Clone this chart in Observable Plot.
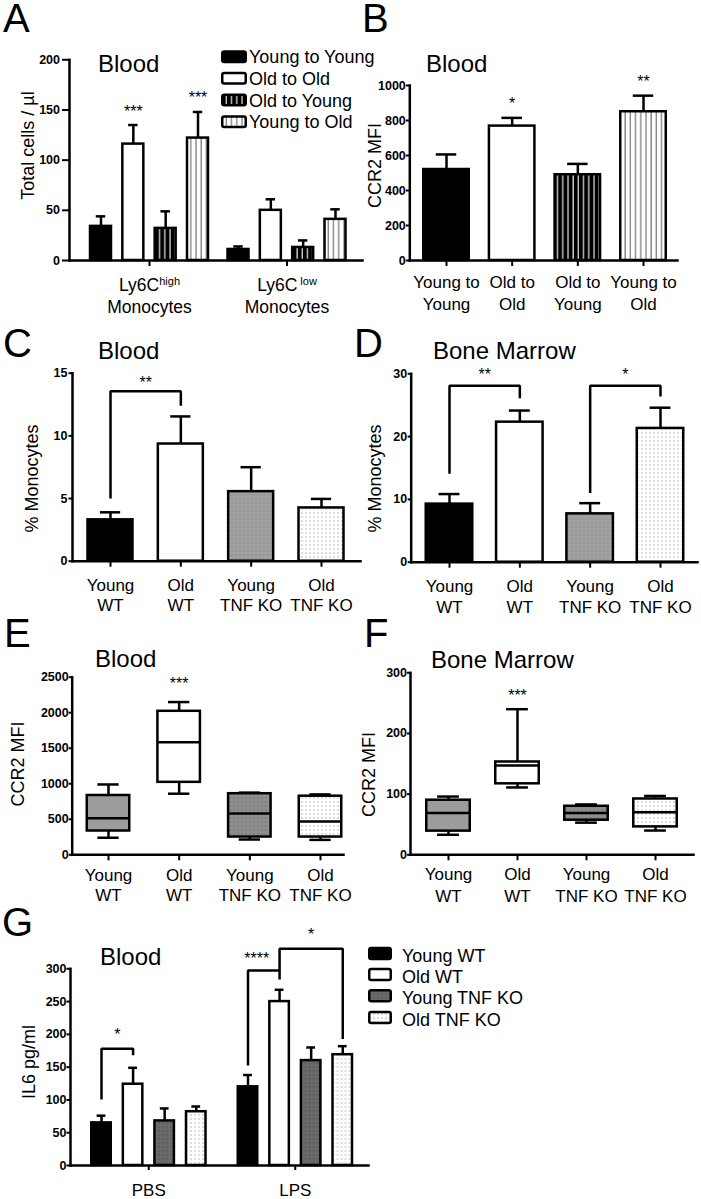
<!DOCTYPE html>
<html>
<head>
<meta charset="utf-8">
<script src="https://cdn.jsdelivr.net/npm/d3@7"></script>
<script src="https://cdn.jsdelivr.net/npm/@observablehq/plot@0.6"></script>
<style>
html,body{margin:0;padding:0;background:#fff;}
#root{position:relative;width:701px;height:1199px;overflow:hidden;background:#fff;}
#root svg{position:absolute;}
#root g[aria-label="y-axis tick label"]{font-weight:bold;}
</style>
</head>
<body>
<div id="root">
<svg id="defs" width="0" height="0" style="left:0;top:0">
<defs>
  <pattern id="vBlack" patternUnits="userSpaceOnUse" width="5.2" height="10">
    <rect width="5.2" height="10" fill="#000"/>
    <rect x="2.2" width="1.1" height="10" fill="#fff"/>
  </pattern>
  <pattern id="vWhite" patternUnits="userSpaceOnUse" width="5.2" height="10">
    <rect width="5.2" height="10" fill="#fff"/>
    <rect x="2.2" width="1.1" height="10" fill="#666"/>
  </pattern>
  <pattern id="dotsLight" patternUnits="userSpaceOnUse" width="4" height="4">
    <rect width="4" height="4" fill="#9c9c9c"/>
    <rect x="1.5" y="1.5" width="1" height="1" fill="#c6c6c6"/>
  </pattern>
  <pattern id="dotsMid" patternUnits="userSpaceOnUse" width="4" height="4">
    <rect width="4" height="4" fill="#8e8e8e"/>
    <rect x="1.5" y="1.5" width="1" height="1" fill="#5a5a5a"/>
  </pattern>
  <pattern id="dotsDark" patternUnits="userSpaceOnUse" width="4" height="4">
    <rect width="4" height="4" fill="#6a6a6a"/>
    <rect x="1.5" y="1.5" width="1" height="1" fill="#3e3e3e"/>
  </pattern>
  <pattern id="dotsWhite" patternUnits="userSpaceOnUse" width="4" height="4">
    <rect width="4" height="4" fill="#fff"/>
    <rect x="1.5" y="1.5" width="1" height="1" fill="#777"/>
  </pattern>
</defs>
</svg>
</div>
<script>
// ================= DATA =================
// Panel A – Blood, total cells / µl
const aGroups = ["Ly6Chigh\nMonocytes", "Ly6Clow\nMonocytes"];
const aSeries = ["Young to Young", "Old to Old", "Old to Young", "Young to Old"];
const aMeans = [[34, 116, 32, 122], [11, 50, 13, 41]];
const aErrs  = [[10, 19, 17, 26], [3, 11, 7, 10]];
const aTicks = [0, 50, 100, 150, 200];
const aStars = [
  {group: 0, from: 1, to: 1, y: 154, label: "***"},
  {group: 0, from: 3, to: 3, y: 168, label: "***"}
];

// Panel B – Blood, CCR2 MFI
const bCats  = ["Young to\nYoung", "Old to\nOld", "Old to\nYoung", "Young to\nOld"];
const bMeans = [520, 768, 490, 850];
const bErrs  = [86, 47, 62, 92];
const bTicks = [0, 200, 400, 600, 800, 1000];
const bStars = [
  {from: 1, to: 1, y: 933, label: "*"},
  {from: 3, to: 3, y: 1057, label: "**"}
];

// Shared categories for C–F
const wtCats = ["Young\nWT", "Old\nWT", "Young\nTNF KO", "Old\nTNF KO"];

// Panel C – Blood, % Monocytes
const cMeans = [3.3, 9.35, 5.55, 4.25];
const cErrs  = [0.6, 2.2, 1.95, 0.72];
const cTicks = [0, 5, 10, 15];
const cBrackets = [
  {id: "c1", cat: 0, y: 5.0}, {id: "c1", cat: 0, y: 13.55},
  {id: "c1", cat: 1, y: 13.55}, {id: "c1", cat: 1, y: 12.4}
];
const cStars = [{from: 0, to: 1, y: 14.74, label: "**"}];

// Panel D – Bone Marrow, % Monocytes
const dMeans = [9.25, 22.3, 7.7, 21.3];
const dErrs  = [1.6, 1.85, 1.7, 3.3];
const dTicks = [0, 10, 20, 30];
const dBrackets = [
  {id: "d1", cat: 0, y: 14.1}, {id: "d1", cat: 0, y: 28.1},
  {id: "d1", cat: 1, y: 28.1}, {id: "d1", cat: 1, y: 26.1},
  {id: "d2", cat: 2, y: 11.0}, {id: "d2", cat: 2, y: 28.1},
  {id: "d2", cat: 3, y: 28.1}, {id: "d2", cat: 3, y: 26.4}
];
const dStars = [
  {from: 0, to: 1, y: 30.8, label: "**"},
  {from: 2, to: 3, y: 30.8, label: "*"}
];

// Panel E – Blood, CCR2 MFI (box plots)
const eMin = [240, 860, 215, 210];
const eQ1  = [335, 1020, 250, 250];
const eMed = [515, 1585, 580, 470];
const eQ3  = [835, 2020, 860, 825];
const eMax = [990, 2150, 875, 850];
const eTicks = [0, 500, 1000, 1500, 2000, 2500];
const eStars = [{from: 1, to: 1, y: 2490, label: "***"}];

// Panel F – Bone Marrow, CCR2 MFI (box plots)
const fMin = [33, 111, 53, 40];
const fQ1  = [39, 117, 57, 46];
const fMed = [69, 147, 69, 70];
const fQ3  = [90, 153, 80, 92];
const fMax = [96, 240, 83, 97];
const fTicks = [0, 100, 200, 300];
const fStars = [{from: 1, to: 1, y: 272, label: "***"}];

// Panel G – Blood, IL6 pg/ml
const gGroups = ["PBS", "LPS"];
const gSeries = ["Young WT", "Old WT", "Young TNF KO", "Old TNF KO"];
const gMeans = [[65, 124, 68, 82], [120, 250, 160, 169]];
const gErrs  = [[11, 25, 19, 8], [18, 18, 20, 13]];
const gTicks = [0, 50, 100, 150, 200, 250, 300];
const gBrackets = [
  {id: "p1", group: 0, s: 0, y: 100.7}, {id: "p1", group: 0, s: 0, y: 178},
  {id: "p1", group: 0, s: 1, y: 178},   {id: "p1", group: 0, s: 1, y: 168},
  {id: "l1", group: 1, s: 0, y: 152.5}, {id: "l1", group: 1, s: 0, y: 297.4},
  {id: "l1", group: 1, s: 1, y: 297.4}, {id: "l1", group: 1, s: 1, y: 283.7},
  {id: "l2", group: 1, s: 1, y: 297.4}, {id: "l2", group: 1, s: 1, y: 330.5},
  {id: "l2", group: 1, s: 3, y: 330.5}, {id: "l2", group: 1, s: 3, y: 193}
];
const gStars = [
  {group: 0, from: 0, to: 1, y: 208.5, label: "*"},
  {group: 1, from: 0, to: 1, y: 325, label: "****"},
  {group: 1, from: 1, to: 3, y: 361, label: "*"}
];

// Text
const panelLetters = ["A", "B", "C", "D", "E", "F", "G"];
const panelTitles = ["Blood", "Blood", "Blood", "Bone Marrow", "Blood", "Bone Marrow", "Blood"];
const yLabels = ["Total cells / µl", "CCR2 MFI", "% Monocytes", "% Monocytes", "CCR2 MFI", "CCR2 MFI", "IL6 pg/ml"];

// ================= STYLES / LAYOUT =================
const FONT = '"Liberation Sans", Arial, Helvetica, sans-serif';
const SW = 2.5;
const STAR = 16;
const transFills = ["#000", "#fff", "url(#vBlack)", "url(#vWhite)"];
const cdFills = ["#000", "#fff", "url(#dotsLight)", "url(#dotsWhite)"];
const efFills = ["#9c9c9c", "#fff", "url(#dotsMid)", "url(#dotsWhite)"];
const gFills = ["#000", "#fff", "url(#dotsDark)", "url(#dotsWhite)"];
const starNudge = {"****": -7};

const letterPos = [[3, 31.7], [362, 32], [3, 357], [354, 357], [4, 647], [364, 647], [2, 936]];
const titlePos = [[98, 71.7], [426, 72], [98, 359], [433, 359], [95, 667], [431, 668], [100, 965]];

const root = document.getElementById("root");
const plotStyle = {fontFamily: FONT, fontSize: "12.5px", background: "transparent", overflow: "visible", maxWidth: "none", position: "absolute"};

function band(l, r, c1, cN, n, bw) {
  const step = (cN - c1) / (n - 1);
  const paddingInner = Math.max(0, 1 - bw / step);
  const paddingOuter = Math.max(0, ((r - l) / step - n + paddingInner) / 2);
  const L = (r - l) - step * (n - paddingInner);
  const align = L > 0.001 ? Math.min(1, Math.max(0, (c1 - bw / 2 - l) / L)) : 0.5;
  const start = l + Math.max(0, L) * align;
  return {step, bw, start, end: start + step * (n - paddingInner), opts: {paddingInner, paddingOuter, align, round: false}};
}
function frameOf(box, f) {
  return {width: box.w, height: box.h, marginLeft: f.l - box.x, marginRight: box.x + box.w - f.r,
          marginTop: f.t - box.y, marginBottom: box.y + box.h - f.b};
}
function mount(svg, box) {
  svg.style.left = box.x + "px";
  svg.style.top = box.y + "px";
  root.appendChild(svg);
}
// For faceted panels the "super" frame spans the facets only (start..end);
// negative insets extend the axis lines to the full plot frame.
function yMarks({ticks, label, frame, labelAt, tickSize, tickPadding, fxb}) {
  const f = fxb ? {facet: "super"} : {};
  const left = fxb ? fxb.start : frame.l;
  const exL = fxb ? -(fxb.start - frame.l) : 0;
  const exR = fxb ? -(frame.r - fxb.end) : 0;
  const ymax = ticks[ticks.length - 1];
  const labelOpts = {text: "t", frameAnchor: "left", textAnchor: "middle", lineAnchor: "middle",
    rotate: -90, fontSize: 18, dx: labelAt[0] - left};
  const labelMark = fxb
    ? Plot.text([{t: label}], {...labelOpts, dy: labelAt[1] - (frame.t + frame.b) / 2, ...f})
    : Plot.text([{t: label, v: (frame.b - labelAt[1]) / (frame.b - frame.t) * ymax}], {...labelOpts, y: "v"});
  return [
    Plot.frame({anchor: "bottom", strokeWidth: SW, insetLeft: exL, insetRight: exR, ...f}),
    Plot.frame({anchor: "left", strokeWidth: SW, insetLeft: exL, ...f}),
    Plot.axisY({ticks, tickSize, tickPadding, tickFormat: d => String(d), fontSize: 12.5, fontWeight: "bold",
      strokeWidth: 2, label: null, dx: exL}),
    labelMark
  ];
}
function starMark(s, cats, step, size, extra = {}) {
  return Plot.text([s], {x: d => cats[d.from], y: "y", text: "label", lineAnchor: "top", fontSize: size,
    dx: step * (s.to - s.from) / 2 + (starNudge[s.label] || 0), ...extra});
}

function barPanel(p) {
  const data = p.cats.map((c, i) => ({cat: c, i, mean: p.means[i], err: p.errs[i]}));
  const capInset = p.xb.bw * 0.275;
  const marks = [
    Plot.ruleX(data, {x: "cat", y1: "mean", y2: d => d.mean + d.err, strokeWidth: SW}),
    Plot.tickY(data, {x: "cat", y: d => d.mean + d.err, strokeWidth: SW, inset: capInset}),
    Plot.barY(data, {x: "cat", y: "mean", fill: d => p.fills[d.i], stroke: "#000", strokeWidth: SW})
  ];
  if (p.brackets) marks.push(Plot.line(p.brackets, {x: d => p.cats[d.cat], y: "y", z: "id", stroke: "#000",
    strokeWidth: SW, strokeLinejoin: "miter", strokeLinecap: "butt"}));
  for (const s of p.stars) marks.push(starMark(s, p.cats, p.xb.step, STAR));
  marks.push(...yMarks(p.y));
  marks.push(Plot.axisX({tickSize: 6, tickPadding: p.xTick.pad, fontSize: 17, lineHeight: p.xTick.lh, strokeWidth: 2, label: null}));
  const svg = Plot.plot({...frameOf(p.box, p.frame), style: plotStyle,
    x: {domain: p.cats, ...p.xb.opts},
    y: {domain: [0, p.y.ticks[p.y.ticks.length - 1]]},
    color: {type: "identity"}, marks});
  mount(svg, p.box);
}

function boxPanel(p) {
  const data = p.cats.map((c, i) => ({cat: c, i, lo: p.lo[i], q1: p.q1[i], med: p.med[i], q3: p.q3[i], hi: p.hi[i]}));
  const capInset = p.xb.bw * 0.25;
  const marks = [
    Plot.ruleX(data, {x: "cat", y1: "lo", y2: "q1", strokeWidth: SW}),
    Plot.ruleX(data, {x: "cat", y1: "q3", y2: "hi", strokeWidth: SW}),
    Plot.tickY(data, {x: "cat", y: "lo", inset: capInset, strokeWidth: SW}),
    Plot.tickY(data, {x: "cat", y: "hi", inset: capInset, strokeWidth: SW}),
    Plot.barY(data, {x: "cat", y1: "q1", y2: "q3", fill: d => p.fills[d.i], stroke: "#000", strokeWidth: SW}),
    Plot.tickY(data, {x: "cat", y: "med", strokeWidth: SW})
  ];
  for (const s of p.stars) marks.push(starMark(s, p.cats, p.xb.step, STAR));
  marks.push(...yMarks(p.y));
  marks.push(Plot.axisX({tickSize: 6, tickPadding: p.xTick.pad, fontSize: 17, lineHeight: p.xTick.lh, strokeWidth: 2, label: null}));
  const svg = Plot.plot({...frameOf(p.box, p.frame), style: plotStyle,
    x: {domain: p.cats, ...p.xb.opts},
    y: {domain: [0, p.y.ticks[p.y.ticks.length - 1]]},
    color: {type: "identity"}, marks});
  mount(svg, p.box);
}

function groupedPanel(p) {
  const data = [];
  p.groups.forEach((g, gi) => p.series.forEach((s, si) =>
    data.push({group: g, series: s, si, mean: p.means[gi][si], err: p.errs[gi][si]})));
  const capInset = p.xb.bw * 0.275;
  const fxOf = d => p.groups[d.group];
  const marks = [
    Plot.ruleX(data, {fx: "group", x: "series", y1: "mean", y2: d => d.mean + d.err, strokeWidth: SW}),
    Plot.tickY(data, {fx: "group", x: "series", y: d => d.mean + d.err, strokeWidth: SW, inset: capInset}),
    Plot.barY(data, {fx: "group", x: "series", y: "mean", fill: d => p.fills[d.si], stroke: "#000", strokeWidth: SW})
  ];
  if (p.brackets) marks.push(Plot.line(p.brackets, {fx: fxOf, x: d => p.series[d.s], y: "y", z: "id",
    stroke: "#000", strokeWidth: SW, strokeLinejoin: "miter", strokeLinecap: "butt"}));
  for (const s of p.stars) marks.push(starMark(s, p.series, p.xb.step, STAR, {fx: fxOf}));
  marks.push(...yMarks({...p.y, fxb: p.fxb}));
  marks.push(Plot.axisFx({anchor: "bottom", tickSize: p.xTick.size, tickPadding: p.xTick.pad, fontSize: p.xTick.fs,
    lineHeight: p.xTick.lh, strokeWidth: 2, label: null}));
  const svg = Plot.plot({...frameOf(p.box, p.frame), style: plotStyle,
    fx: {domain: p.groups, ...p.fxb.opts},
    x: {domain: p.series, axis: null, ...p.xb.opts},
    y: {domain: [0, p.y.ticks[p.y.ticks.length - 1]]},
    color: {type: "identity"}, marks});
  // superscripts for Ly6C high / low
  svg.querySelectorAll("text, tspan").forEach(el => {
    if (el.childNodes.length === 1 && el.firstChild.nodeType === 3) {
      const m = /^Ly6C(high|low)$/.exec(el.textContent);
      if (m) {
        el.textContent = "Ly6C";
        const sup = document.createElementNS("http://www.w3.org/2000/svg", "tspan");
        sup.setAttribute("baseline-shift", "6");
        sup.setAttribute("font-size", "11");
        if (m[1] === "low") sup.setAttribute("dx", "3");
        sup.textContent = m[1];
        el.appendChild(sup);
      }
    }
  });
  mount(svg, p.box);
}

// ================= PANELS =================
// A
{
  const box = {x: 0, y: 40, w: 372, h: 290}, frame = {l: 69, r: 362, t: 59.3, b: 260};
  groupedPanel({box, frame, groups: aGroups, series: aSeries, means: aMeans, errs: aErrs, fills: transFills,
    fxb: band(69, 362, 149, 286.5, 2, 137.5), xb: band(0, 137.5, 20.25, 117.25, 4, 21),
    stars: aStars, xTick: {size: 6, pad: 9, lh: 1.24, fs: 17.5},
    y: {ticks: aTicks, label: yLabels[0], frame, labelAt: [27.5, 145], tickSize: 7, tickPadding: 2.5}});
}
// B
{
  const box = {x: 352, y: 40, w: 349, h: 290}, frame = {l: 409.3, r: 677, t: 85, b: 260};
  barPanel({box, frame, cats: bCats, means: bMeans, errs: bErrs, fills: transFills,
    xb: band(409.3, 677, 446, 643, 4, 45.5), stars: bStars,
    xTick: {pad: 5.7, lh: 1.3},
    y: {ticks: bTicks, label: yLabels[1], frame, labelAt: [375, 165], tickSize: 3.5, tickPadding: 0.5}});
}
// C
{
  const box = {x: 0, y: 355, w: 365, h: 265}, frame = {l: 72, r: 360, t: 372.7, b: 560.7};
  barPanel({box, frame, cats: wtCats, means: cMeans, errs: cErrs, fills: cdFills,
    xb: band(72, 360, 110, 321, 4, 45), stars: cStars, brackets: cBrackets,
    xTick: {pad: 10, lh: 1.18},
    y: {ticks: cTicks, label: yLabels[2], frame, labelAt: [31.5, 478], tickSize: 3.5, tickPadding: 1.5}});
}
// D
{
  const box = {x: 352, y: 355, w: 349, h: 265}, frame = {l: 410.7, r: 697, t: 373.3, b: 561.7};
  barPanel({box, frame, cats: wtCats, means: dMeans, errs: dErrs, fills: cdFills,
    xb: band(410.7, 697, 449, 660, 4, 46.5), stars: dStars, brackets: dBrackets,
    xTick: {pad: 9.6, lh: 1.2},
    y: {ticks: dTicks, label: yLabels[3], frame, labelAt: [374.5, 478], tickSize: 3, tickPadding: 1}});
}
// E
{
  const box = {x: 0, y: 660, w: 352, h: 250}, frame = {l: 71.7, r: 343, t: 676.7, b: 854.3};
  boxPanel({box, frame, cats: wtCats, lo: eMin, q1: eQ1, med: eMed, q3: eQ3, hi: eMax, fills: efFills,
    xb: band(71.7, 343, 108, 320, 4, 42.5), stars: eStars,
    xTick: {pad: 6.4, lh: 1.18},
    y: {ticks: eTicks, label: yLabels[4], frame, labelAt: [17.5, 763.5], tickSize: 3, tickPadding: 0.5}});
}
// F
{
  const box = {x: 352, y: 660, w: 349, h: 250}, frame = {l: 410, r: 693, t: 672.3, b: 854.3};
  boxPanel({box, frame, cats: wtCats, lo: fMin, q1: fQ1, med: fMed, q3: fQ3, hi: fMax, fills: efFills,
    xb: band(410, 693, 448, 655, 4, 43.5), stars: fStars,
    xTick: {pad: 4.7, lh: 1.24},
    y: {ticks: fTicks, label: yLabels[5], frame, labelAt: [368.5, 774], tickSize: 3, tickPadding: 0.5}});
}
// G
{
  const box = {x: 0, y: 925, w: 372, h: 274}, frame = {l: 70, r: 368, t: 968.3, b: 1165};
  groupedPanel({box, frame, groups: gGroups, series: gSeries, means: gMeans, errs: gErrs, fills: gFills,
    fxb: band(70, 368, 148.5, 295, 2, 146.5), xb: band(0, 146.5, 26, 120.75, 4, 19.5),
    stars: gStars, brackets: gBrackets, xTick: {size: 5, pad: 11, lh: 1.2, fs: 17},
    y: {ticks: gTicks, label: yLabels[6], frame, labelAt: [28.5, 1061.5], tickSize: 3.5, tickPadding: 0.5}});
}

// ================= OVERLAY: letters, titles, legends =================
const ov = d3.select(root).append("svg")
  .attr("width", 701).attr("height", 1199)
  .style("left", "0px").style("top", "0px")
  .attr("font-family", FONT);
panelLetters.forEach((t, i) => ov.append("text").attr("x", letterPos[i][0]).attr("y", letterPos[i][1])
  .attr("font-size", 40).text(t));
panelTitles.forEach((t, i) => ov.append("text").attr("x", titlePos[i][0]).attr("y", titlePos[i][1])
  .attr("font-size", 24).text(t));

function legend(items, fills, sx, sw, sh, swTop, tx, baselines) {
  items.forEach((t, i) => {
    const b = baselines[i];
    ov.append("rect").attr("x", sx).attr("y", b - swTop).attr("width", sw).attr("height", sh)
      .attr("rx", 2).attr("fill", fills[i]).attr("stroke", "#000").attr("stroke-width", SW);
    ov.append("text").attr("x", tx).attr("y", b).attr("font-size", 18).text(t);
  });
}
legend(aSeries, transFills, 222.25, 23.5, 10.5, 11.75, 249, [63.3, 84.7, 106.5, 128.3]);
legend(gSeries, gFills, 369.25, 21.5, 11, 13.75, 402, [961.7, 982.7, 1004, 1025.7]);
</script>
</body>
</html>
